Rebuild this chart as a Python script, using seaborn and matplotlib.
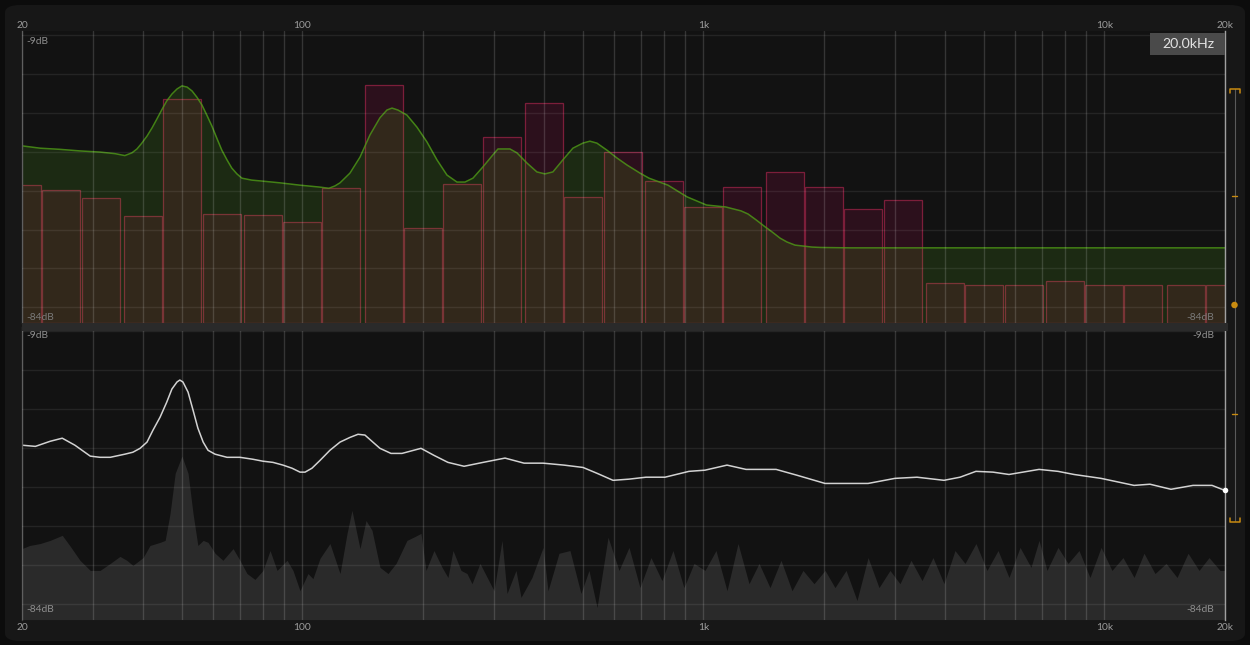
import matplotlib
matplotlib.use("Agg")
import matplotlib.pyplot as plt
import seaborn as sns
from matplotlib.patches import FancyBboxPatch, Rectangle, Ellipse
from matplotlib.lines import Line2D

# ---------------- data ----------------
band_centers = [20, 25, 31.5, 40, 50, 63, 80, 100, 125, 160, 200, 250, 315, 400, 500, 630,
                800, 1000, 1250, 1600, 2000, 2500, 3150, 4000, 5000, 6300, 8000, 10000,
                12500, 16000, 20000]
band_levels = [-48.6, -49.8, -51.9, -56.5, -26.5, -56.0, -56.3, -58.1, -49.3, -22.9, -59.6,
               -48.3, -36.2, -27.5, -51.6, -40.1, -47.5, -54.2, -49.1, -45.2, -49.1, -54.7,
               -52.4, -73.7, -74.2, -74.2, -73.2, -74.2, -74.2, -74.2, -74.2]

target_freq = [20.0, 22.2, 24.9, 27.9, 31.3, 34.1, 36.1, 37.6, 38.7, 39.8, 41.0, 42.2, 43.4,
               44.6, 45.9, 47.3, 48.7, 50.1, 51.6, 53.1, 54.6, 56.2, 57.8, 59.5, 61.2, 63.0,
               64.9, 66.7, 68.7, 70.7, 74.8, 78.5, 88.0, 98.7, 110.7, 116.5, 120.6, 124.2,
               131.5, 139.3, 147.5, 156.2, 162.6, 167.4, 173.2, 182.4, 193.2, 204.6, 216.7,
               229.5, 243.1, 254.5, 266.5, 282.2, 298.9, 307.6, 329.5, 343.0, 363.2, 384.7,
               402.8, 421.7, 446.6, 473.0, 500.9, 521.5, 542.9, 574.9, 608.8, 644.8, 695.2,
               732.2, 816.6, 910.8, 1018.6, 1137.6, 1241.9, 1292.8, 1353.8, 1417.5, 1484.2,
               1554.0, 1617.6, 1693.7, 1762.7, 1866.8, 1965.7, 2322, 20000]
target_db = [-38.5, -39.1, -39.4, -39.8, -40.1, -40.5, -41.0, -40.3, -39.3, -37.8, -36.0,
             -33.9, -31.6, -29.3, -27.0, -25.2, -23.9, -23.1, -23.4, -24.4, -26.0, -28.0,
             -30.6, -33.4, -36.5, -39.6, -42.1, -44.2, -45.7, -46.8, -47.3, -47.5, -48.0,
             -48.6, -49.1, -49.4, -48.8, -48.0, -45.5, -41.4, -35.7, -31.3, -29.3, -28.8,
             -29.3, -30.6, -33.7, -37.5, -42.1, -46.0, -47.8, -47.8, -46.8, -43.9, -40.8,
             -39.3, -39.3, -40.3, -42.9, -45.2, -45.7, -45.2, -42.1, -39.1, -37.8, -37.3,
             -37.8, -39.6, -41.6, -43.4, -45.5, -46.8, -48.6, -51.6, -53.7, -54.2, -55.2,
             -56.0, -57.5, -59.1, -60.6, -62.2, -63.2, -64.0, -64.2, -64.5, -64.6, -64.7,
             -64.7]

avg_freq = [20.0, 21.6, 23.5, 25.2, 27.1, 29.6, 31.3, 33.2, 36.1, 37.8, 39.4, 41.0, 42.4,
            44.2, 45.9, 47.3, 48.7, 49.5, 50.4, 51.9, 53.4, 54.9, 56.6, 58.2, 60.6, 64.9,
            69.9, 75.3, 79.8, 84.5, 89.5, 94.3, 98.7, 101.6, 105.7, 110.7, 117.2, 124.2,
            131.5, 137.7, 143.3, 149.2, 156.2, 166.4, 177.3, 197.7, 213.0, 230.8, 253.2,
            282.4, 320.3, 357.3, 398.5, 449.4, 501.2, 543.3, 595.5, 652.7, 719.6, 802.6,
            921.2, 1009.8, 1146, 1278, 1519, 1713, 2012, 2270, 2576, 3006, 3412, 3984, 4368,
            4786, 5278, 5786, 6876, 7666, 8404, 9816, 11864, 13002, 14666, 16646, 18564,
            20000]
avg_db = [-39.3, -39.6, -38.3, -37.5, -39.3, -42.1, -42.4, -42.4, -41.6, -41.1, -40.1, -38.5,
          -35.5, -32.1, -28.3, -24.9, -23.1, -22.6, -23.1, -25.7, -30.3, -34.9, -38.5, -40.6,
          -41.6, -42.4, -42.4, -42.9, -43.4, -43.7, -44.4, -45.2, -46.2, -46.2, -45.2, -43.2,
          -40.6, -38.5, -37.3, -36.5, -36.7, -38.3, -40.1, -41.4, -41.4, -40.1, -41.9, -43.7,
          -44.7, -43.7, -42.6, -43.9, -43.9, -44.4, -45.0, -46.5, -48.3, -48.0, -47.5, -47.5,
          -46.0, -45.7, -44.4, -45.5, -45.5, -47.0, -49.1, -49.1, -49.1, -47.8, -47.5, -48.3,
          -47.5, -46.0, -46.2, -46.8, -45.5, -46.0, -46.8, -47.8, -49.6, -49.3, -50.6, -49.6,
          -49.6, -50.9]

spec_freq = [20.0, 20.9, 22.2, 23.5, 25.2, 26.3, 27.9, 29.6, 31.3, 33.2, 35.1, 36.5, 37.8,
             40.1, 41.7, 44.2, 45.5, 46.8, 48.2, 50.1, 51.9, 53.4, 54.9, 56.6, 58.2, 60.6,
             63.4, 67.2, 69.9, 72.8, 76.2, 79.8, 83.1, 86.5, 91.6, 94.8, 98.7, 103.3, 106.3,
             110.7, 117.2, 124.2, 129.3, 133.0, 139.3, 144.2, 149.2, 156.2, 163.6, 171.3,
             182.4, 191.0, 197.7, 203.5, 213.0, 223.1, 230.8, 237.6, 248.8, 257.5, 265.0,
             277.4, 300.7, 314.8, 324.0, 341.1, 351.1, 373.9, 398.5, 410.0, 436.7, 465.1,
             495.4, 518.7, 543.3, 578.7, 616.4, 652.7, 695.2, 740.5, 788.7, 840.1, 894.8,
             948.0, 1009.8, 1075.6, 1146, 1220.7, 1300.3, 1377.2, 1466.8, 1562.4, 1664.2,
             1772.7, 1888.2, 2012, 2130, 2270, 2417, 2576, 2743, 2921, 3094, 3296, 3511,
             3739, 3984, 4243, 4494, 4786, 5099, 5433, 5786, 6164, 6565, 6876, 7196, 7666,
             8120, 8648, 9211, 9816, 10450, 11133, 11864, 12561, 13381, 14256, 15186, 16177,
             17230, 18248, 19439, 20000]
spec_db = [-65.8, -65.0, -64.5, -63.7, -62.4, -65.0, -68.8, -71.4, -71.4, -69.6, -67.8, -68.8,
           -70.1, -68.1, -65.0, -64.2, -63.7, -56.8, -46.5, -42.1, -46.5, -56.8, -65.0, -63.7,
           -64.2, -67.0, -68.8, -65.8, -68.8, -72.2, -73.7, -71.4, -66.3, -71.4, -68.8, -71.4,
           -76.6, -72.2, -73.5, -68.3, -64.5, -72.2, -61.9, -56.0, -65.8, -58.6, -61.1, -70.6,
           -72.2, -69.6, -63.7, -62.7, -61.9, -71.4, -66.3, -70.6, -73.2, -66.3, -71.4, -72.2,
           -74.8, -69.6, -76.6, -63.7, -77.3, -71.4, -78.3, -73.2, -65.5, -76.6, -67.0, -66.3,
           -77.3, -71.4, -80.9, -62.9, -71.4, -65.5, -75.8, -68.1, -74.0, -66.3, -75.8, -69.6,
           -71.4, -66.3, -76.6, -64.5, -74.8, -69.6, -75.8, -68.8, -76.6, -71.4, -74.8, -71.4,
           -75.8, -71.4, -79.1, -68.1, -75.8, -71.4, -74.8, -68.8, -74.0, -68.1, -74.8, -66.3,
           -69.6, -64.5, -71.4, -66.3, -73.2, -65.5, -70.6, -63.7, -71.4, -65.5, -69.6, -66.3,
           -73.2, -65.5, -71.4, -68.1, -73.2, -67.0, -72.2, -69.6, -73.2, -67.0, -71.4, -68.1,
           -71.4, -71.4]

freq_labels = ["20", "100", "1k", "10k", "20k"]
freq_label_pos = [20, 100, 1000, 10000, 20000]
db_top_label, db_bottom_label = "-9dB", "-84dB"
cursor_label = "20.0kHz"
db_min, db_max = -84, -9

# ---------------- style ----------------
W, H = 1250, 645
sns.set_theme(style="dark")
plt.rcParams["font.family"] = ["Lato", "DejaVu Sans"]

fig = plt.figure(figsize=(W / 100, H / 100), dpi=100)
fig.patch.set_facecolor("#0c0c0c")


def fx(x):
    return x / W


def fy(y):
    return 1 - y / H


fig.add_artist(FancyBboxPatch((fx(5), fy(641)), fx(1240), 636 / H,
                              boxstyle="round,pad=0,rounding_size=0.012",
                              transform=fig.transFigure, facecolor="#171717",
                              edgecolor="none", zorder=-5))

grid_freqs = [m * 10 ** e for e in (1, 2, 3, 4) for m in range(1, 10)
              if 20 <= m * 10 ** e <= 20000]
grid_db = list(range(-80, -9, 10))


def style_axes(ax):
    ax.set_facecolor("#121212")
    ax.set_xscale("log")
    ax.set_xlim(20, 20000)
    ax.set_ylim(db_min, db_max)
    ax.set_xticks(grid_freqs)
    ax.set_xticks([], minor=True)
    ax.set_yticks(grid_db)
    ax.tick_params(length=0, labelbottom=False, labelleft=False)
    ax.set_axisbelow(False)
    ax.grid(axis="x", color="white", alpha=0.15, lw=1.0)
    ax.grid(axis="y", color="white", alpha=0.08, lw=1.0)
    for s in ("top", "bottom"):
        ax.spines[s].set_visible(False)
    ax.spines["left"].set_color("#444444")
    ax.spines["left"].set_linewidth(1.0)
    ax.spines["right"].set_color("#a0a0a0")
    ax.spines["right"].set_linewidth(1.0)


# ---- top panel ----
ax1 = fig.add_axes([fx(22), fy(323), 1203 / W, 292 / H])
style_axes(ax1)
half = 10 ** 0.0475
lefts = [c / half for c in band_centers]
widths = [c * half - c / half for c in band_centers]
heights = [v - db_min for v in band_levels]
ax1.bar(lefts, heights, width=widths, bottom=db_min, align="edge",
        color="#2c101c", edgecolor="#7c1e3a", linewidth=0.9, zorder=1)
ax1.fill_between(target_freq, target_db, db_min, color=(101 / 255, 218 / 255, 27 / 255),
                 alpha=0.12, lw=0, zorder=1.5)
sns.lineplot(x=target_freq, y=target_db, ax=ax1, color="#4f9c16", lw=1.1, alpha=0.8,
             estimator=None, zorder=2)
ax1.set_xlabel("")
ax1.set_ylabel("")

# ---- bottom panel ----
ax2 = fig.add_axes([fx(22), fy(619.6), 1203 / W, 292.6 / H])
style_axes(ax2)
ax2.fill_between(spec_freq, spec_db, db_min, color="#2a2a2a", lw=0, zorder=1)
sns.lineplot(x=avg_freq, y=avg_db, ax=ax2, color="#d2d2d2", lw=1.1, estimator=None, zorder=2)
ax2.scatter([avg_freq[-1]], [avg_db[-1]], s=16, color="white", zorder=5, clip_on=False,
            linewidths=0)
ax2.set_xlabel("")
ax2.set_ylabel("")

# divider between panels
fig.add_artist(Rectangle((fx(22), fy(330.5)), 1206 / W, 7.5 / H, transform=fig.transFigure,
                         facecolor="#2a2a2a", edgecolor="none", zorder=10))

# frequency labels
for f, lab in zip(freq_label_pos, freq_labels):
    xp = ax1.transData.transform((f, -50))[0] / W
    fig.text(xp, fy(26), lab, color="#9c9c9c", fontsize=7.4, ha="center", va="center")
    fig.text(xp, fy(628), lab, color="#9c9c9c", fontsize=7.4, ha="center", va="center")

# dB labels
lab_kw = dict(fontsize=7.4, va="center", zorder=12)
fig.text(fx(26), fy(41), db_top_label, color="#8e8e8e", ha="left", **lab_kw)
fig.text(fx(26), fy(317), db_bottom_label, color="#7a7a7a", ha="left", **lab_kw)
fig.text(fx(1214), fy(317), db_bottom_label, color="#7a7a7a", ha="right", **lab_kw)
fig.text(fx(26), fy(335), db_top_label, color="#8e8e8e", ha="left", **lab_kw)
fig.text(fx(1214), fy(335), db_top_label, color="#8e8e8e", ha="right", **lab_kw)
fig.text(fx(26), fy(610), db_bottom_label, color="#8e8e8e", ha="left", **lab_kw)
fig.text(fx(1214), fy(610), db_bottom_label, color="#8e8e8e", ha="right", **lab_kw)

# cursor badge
fig.add_artist(Rectangle((fx(1150), fy(55)), 75 / W, 22 / H, transform=fig.transFigure,
                         facecolor="#4a4a4a", edgecolor="none", zorder=11))
fig.text(fx(1188), fy(44.5), cursor_label, color="#e2e2e2", fontsize=10.2, ha="center",
         va="center", zorder=12)

# range slider on the right
orange = "#c98b10"


def fline(xs, ys, **kw):
    fig.add_artist(Line2D([fx(v) for v in xs], [fy(v) for v in ys],
                          transform=fig.transFigure, **kw))


fline([1234.5, 1234.5], [89, 521], color="#5a5a5a", lw=0.8, zorder=11)
fline([1229.5, 1229.5, 1240, 1240], [92.5, 88.5, 88.5, 92.5], color=orange, lw=1.1, zorder=12)
fline([1229.5, 1229.5, 1240, 1240], [517.5, 521.5, 521.5, 517.5], color=orange, lw=1.1, zorder=12)
fline([1232, 1237], [196, 196], color=orange, lw=1.0, zorder=12)
fline([1232, 1237], [414, 414], color=orange, lw=1.0, zorder=12)
fig.add_artist(Ellipse((fx(1234.5), fy(305)), 6.5 / W, 6.5 / H, transform=fig.transFigure,
                       facecolor=orange, edgecolor="none", zorder=12))

fig.savefig("out.png", dpi=100, facecolor=fig.get_facecolor())
